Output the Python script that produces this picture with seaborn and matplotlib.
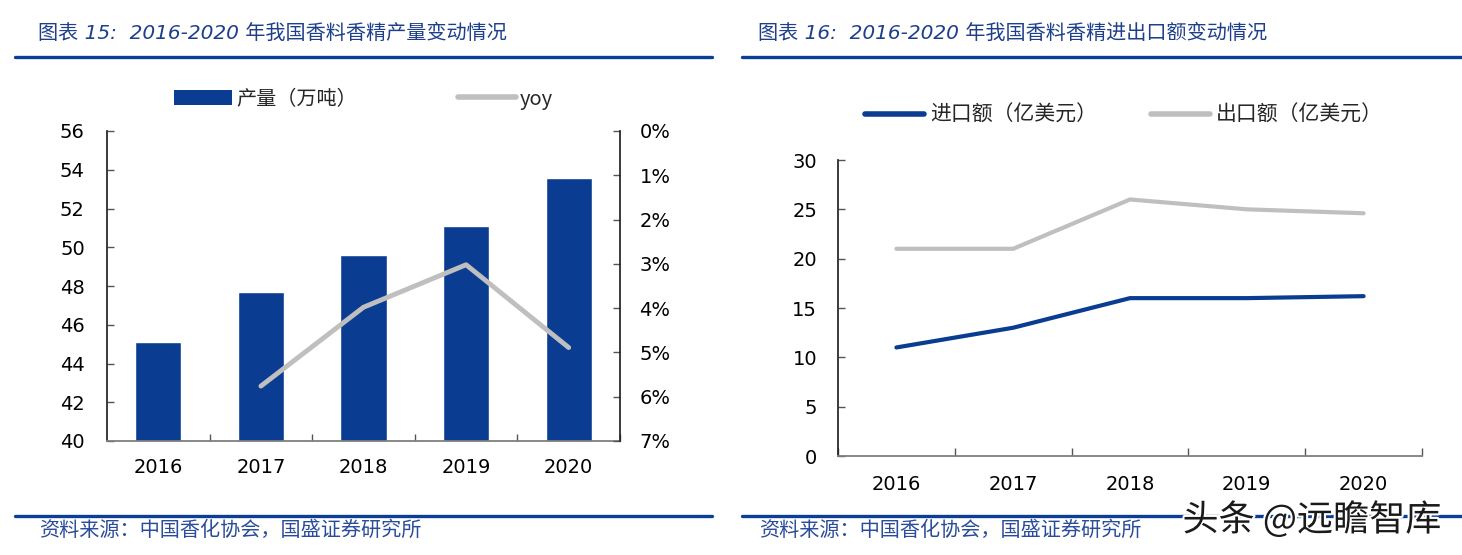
import numpy as np
import pandas as pd
import matplotlib
matplotlib.use('Agg')
import matplotlib.pyplot as plt
import matplotlib.patheffects as pe
import seaborn as sns
from matplotlib.lines import Line2D
from matplotlib.patches import Patch

# ---- data ----
years = ['2016', '2017', '2018', '2019', '2020']
production = [45.1, 47.7, 49.6, 51.1, 53.6]          # 万吨
yoy = [np.nan, 5.76, 3.98, 3.02, 4.89]               # %
imports = [11.0, 13.0, 16.0, 16.0, 16.2]             # 亿美元
exports = [21.0, 21.0, 26.0, 25.0, 24.6]             # 亿美元
left_ticks = [40, 42, 44, 46, 48, 50, 52, 54, 56]
yoy_ticks = [0, 1, 2, 3, 4, 5, 6, 7]
right_ticks = [0, 5, 10, 15, 20, 25, 30]

title1 = '图表 15:  2016-2020 年我国香料香精产量变动情况'
title2 = '图表 16:  2016-2020 年我国香料香精进出口额变动情况'
source = '资料来源：中国香化协会，国盛证券研究所'

BLUE = '#0A3D92'
GRAY = '#BFBFBF'
TITLE_BLUE = '#1E3F8A'
CJK = ['Noto Sans CJK SC', 'DejaVu Sans']
LAT = ['DejaVu Sans', 'Noto Sans CJK SC']

sns.set_theme(style='white')
plt.rcParams['font.family'] = LAT

df = pd.DataFrame({'year': years, 'production': production, 'yoy': yoy,
                   'imports': imports, 'exports': exports})
df['pos'] = np.arange(len(df))

fig = plt.figure(figsize=(14.62, 5.55), dpi=100)

# ---------------- left panel ----------------
ax1 = fig.add_axes([107/1462, 1-441/555, (620-107)/1462, (441-131)/555])
sns.barplot(data=df, x='year', y='production', color=BLUE, saturation=1,
            width=0.45, ax=ax1)
ax1.set_ylim(40, 56)
ax1.set_yticks(left_ticks)
ax1.set_xlim(-0.5, len(years) - 0.5)
ax1.set_xlabel('')
ax1.set_ylabel('')

ax2 = ax1.twinx()
dy = df.dropna(subset=['yoy'])
sns.lineplot(x=dy['pos'], y=dy['yoy'], color=GRAY, lw=3.5, ax=ax2)
ax2.set_ylim(7, 0)
ax2.set_yticks(yoy_ticks)
ax2.set_yticklabels([f'{v}%' for v in yoy_ticks])
ax2.set_ylabel('')
ax2.set_xlim(-0.5, len(years) - 0.5)

for ax in (ax1, ax2):
    ax.spines['top'].set_visible(False)
ax1.spines['left'].set_color('#222222')
ax1.spines['right'].set_visible(False)
ax2.spines['left'].set_visible(False)
ax2.spines['right'].set_color('#222222')
ax2.spines['bottom'].set_visible(False)
ax1.spines['bottom'].set_color('#7F7F7F')
ax1.spines['bottom'].set_linewidth(1.3)

ax1.tick_params(axis='y', direction='in', length=5, width=1, color='#555555',
                labelsize=14, pad=16, left=True, labelcolor='black')
ax2.tick_params(axis='y', direction='in', length=5, width=1, color='#555555',
                labelsize=14, pad=14, right=True, labelcolor='black')
ax1.set_xticks(np.arange(len(years)) + 0.5, minor=True)
ax1.tick_params(axis='x', which='major', length=0, labelsize=14, pad=12, labelcolor='black')
ax1.tick_params(axis='x', which='minor', direction='in', length=5, width=1,
                color='#555555', bottom=True)

h1 = [Patch(facecolor=BLUE, edgecolor='none'), Line2D([], [], color=GRAY, lw=4)]
ax1.legend(h1, ['产量（万吨）', 'yoy'], loc='center', bbox_to_anchor=(0.5, 1.103),
           ncol=2, frameon=False, handlelength=2.9, handleheight=0.72,
           columnspacing=5.0, handletextpad=0.2,
           prop={'family': CJK, 'size': 14.5})

# ---------------- right panel ----------------
ax3 = fig.add_axes([838/1462, 1-456/555, (1422-838)/1462, (456-160)/555])
sns.lineplot(x=df['pos'], y=df['imports'], color=BLUE, lw=3, ax=ax3)
sns.lineplot(x=df['pos'], y=df['exports'], color=GRAY, lw=3, ax=ax3)
ax3.set_ylim(0, 30)
ax3.set_yticks(right_ticks)
ax3.set_xlim(-0.5, len(years) - 0.5)
ax3.set_xticks(df['pos'])
ax3.set_xticklabels(years)
ax3.set_xticks(np.arange(len(years) + 1) - 0.5, minor=True)
ax3.set_xlabel('')
ax3.set_ylabel('')
ax3.spines['top'].set_visible(False)
ax3.spines['right'].set_visible(False)
ax3.spines['left'].set_color('#222222')
ax3.spines['bottom'].set_color('#7F7F7F')
ax3.spines['bottom'].set_linewidth(1.3)
ax3.tick_params(axis='y', direction='in', length=5, width=1, color='#555555',
                labelsize=14, pad=15, left=True, labelcolor='black')
ax3.tick_params(axis='x', which='major', length=0, labelsize=14, pad=14, labelcolor='black')
ax3.tick_params(axis='x', which='minor', direction='in', length=6, width=1,
                color='#555555', bottom=True)

h3 = [Line2D([], [], color=BLUE, lw=4), Line2D([], [], color=GRAY, lw=4)]
ax3.legend(h3, ['进口额（亿美元）', '出口额（亿美元）'], loc='center',
           bbox_to_anchor=(0.49, 1.152), ncol=2, frameon=False,
           handlelength=2.8, columnspacing=2.6, handletextpad=0.3,
           prop={'family': CJK, 'size': 15})

# ---------------- titles, rules, sources ----------------
for x0, x1, dx, title in [(15, 712, 23, title1), (742, 1462, 16, title2)]:
    fig.text((x0 + dx) / 1462, 1 - 33/555, title, fontsize=14.5, color=TITLE_BLUE,
             style='italic', va='center', ha='left', family=LAT)
    fig.add_artist(Line2D([x0/1462, x1/1462], [1-57/555, 1-57/555],
                          color='#0B3F96', lw=2.4, transform=fig.transFigure))
    fig.add_artist(Line2D([x0/1462, x1/1462], [1-516/555, 1-516/555],
                          color='#0B3F96', lw=2.4, transform=fig.transFigure))
    fig.text((x0 + dx + 1) / 1462, 1 - 530/555, source, fontsize=14.5, color='#2B4C9B',
             style='italic', va='center', ha='left', family=CJK)

fig.text(1312/1462, 1 - 520/555, '头条 @远瞻智库', fontsize=26, color='#1A1A1A',
         ha='center', va='center', family=CJK,
         path_effects=[pe.withStroke(linewidth=3, foreground='white')])

fig.savefig('out.png', dpi=100)
